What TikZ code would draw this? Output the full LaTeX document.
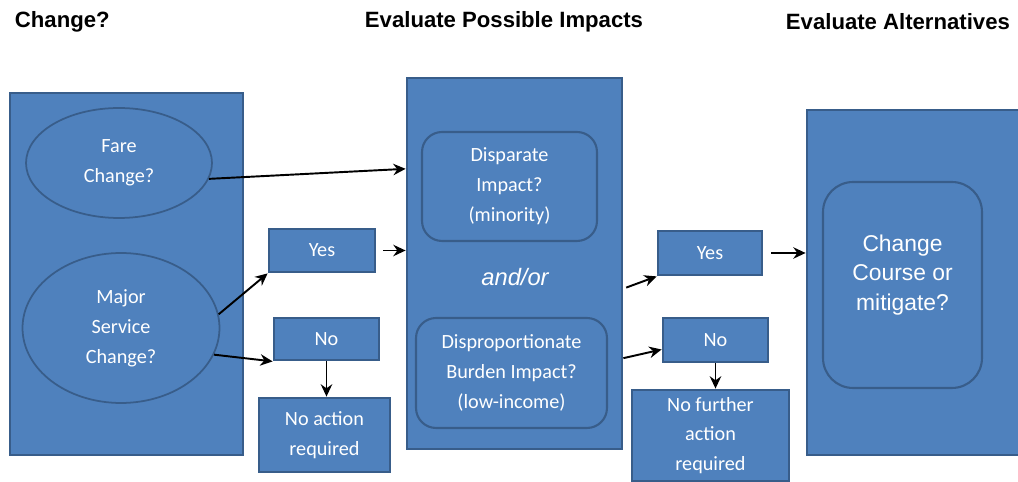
\documentclass[tikz,border=0pt]{standalone}
\usepackage{fontspec}
\setmainfont{Carlito}
\newfontfamily\arialfont{Liberation Sans}
\usepackage{tikz}
\usetikzlibrary{arrows.meta,shapes.geometric}
\definecolor{boxblue}{HTML}{4F81BD}
\definecolor{edgeblue}{HTML}{385D8A}

\begin{document}
\begin{tikzpicture}[->,>={Stealth[length=7pt,width=6.5pt]},x=0.02cm,y=-0.02cm,line width=1.1pt]
	\tikzstyle{panel}=[draw=edgeblue,fill=boxblue,line width=1.6pt]
	\tikzstyle{question}=[draw=edgeblue,fill=boxblue,line width=1pt,ellipse,inner sep=0pt,text=white,align=center,font=\fontsize{11.5}{17}\selectfont]
	\tikzstyle{impact}=[draw=edgeblue,fill=boxblue,line width=1.2pt,rounded corners=0.4cm,text=white,align=center,font=\fontsize{11.5}{17}\selectfont]
	\tikzstyle{answer}=[draw=edgeblue,fill=boxblue,line width=1.6pt,text=white,align=center,font=\fontsize{11.5}{17}\selectfont]
	\tikzstyle{heading}=[anchor=west,inner sep=0pt,font=\arialfont\bfseries\fontsize{12.6}{15}\selectfont]
	
	\clip (0,0) rectangle (1018,482);
	
	% column titles
	\node[heading] (t1) at (14,22) {Change?};
	\node[heading] (t2) at (364,22) {Evaluate Possible Impacts};
	\node[heading] (t3) at (785,22) {Evaluate Alternatives};
	
	% change?
	\node[panel,minimum width=4.66cm,minimum height=7.24cm] (chg) at (126.5,274) {};
	\node[question,minimum width=3.72cm,minimum height=2.2cm] (fare) at (119,163) {Fare\\Change?};
	\node[question,minimum width=3.94cm,minimum height=3cm] (major) at (121,328) {Major\\Service\\Change?};
	\node[answer,minimum width=2.12cm,minimum height=0.86cm] (yes1) at (322,250.5) {Yes};
	\node[answer,minimum width=2.1cm,minimum height=0.84cm] (no1) at (326.5,339) {No};
	\node[answer,minimum width=2.62cm,minimum height=1.48cm] (noact) at (324.5,435) {No action\\required};
	
	% impacts
	\node[panel,minimum width=4.3cm,minimum height=7.42cm] (mid) at (514.5,263.5) {};
	\node[impact,minimum width=3.5cm,minimum height=2.18cm] (disp) at (509.5,186.5) {Disparate\\Impact?\\(minority)};
	\node[text=white,font=\arialfont\itshape\fontsize{13.5}{16}\selectfont] (andor) at (515,277) {and/or};
	\node[impact,minimum width=3.82cm,minimum height=2.2cm] (burden) at (511.5,373) {Disproportionate\\Burden Impact?\\(low-income)};
	\node[answer,minimum width=2.08cm,minimum height=0.88cm] (yes2) at (710,253) {Yes};
	\node[answer,minimum width=2.1cm,minimum height=0.88cm] (no2) at (715.5,340) {No};
	\node[answer,minimum width=3.14cm,minimum height=1.82cm] (nofur) at (710.5,435.5) {No further\\action\\required};
	
	% alternatives
	\node[panel,minimum width=4.3cm,minimum height=6.9cm] (alt) at (914.5,282.5) {};
	\node[impact,rounded corners=0.6cm,minimum width=3.18cm,minimum height=4.12cm,font=\arialfont\fontsize{13}{17}\selectfont] (course) at (902.5,285)
		{\begin{tabular}{@{}c@{}}Change\\Course or\\mitigate?\\[0.4cm]\end{tabular}};
	
	\path
	(fare.-10) edge (mid.139.6)
	(major.8) edge (yes1.south west)
	(major.-16) edge (no1.south west)
	(yes1.east) edge[shorten <=0.14cm] (yes1.east -| mid.west)
	(no1.south) edge (no1.south |- noact.north)
	(mid.-13) edge[shorten <=0.06cm] (yes2.south west)
	(mid.-41) edge (no2.190)
	(yes2.east) edge[shorten <=0.16cm] (yes2.east -| alt.west)
	(no2.south) edge (no2.south |- nofur.north);
\end{tikzpicture}
\end{document}
